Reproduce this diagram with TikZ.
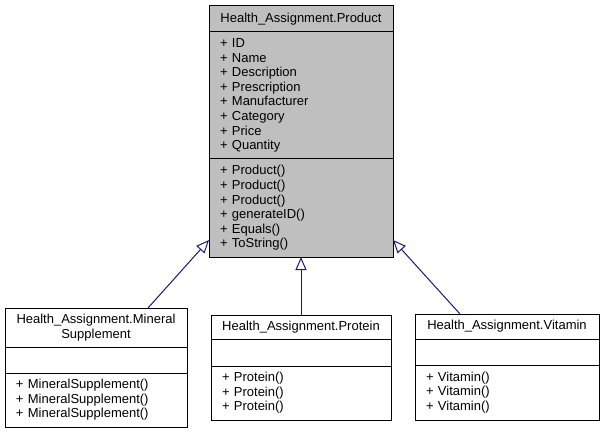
\documentclass[tikz,border=0pt]{standalone}
\usepackage{fontspec}
\setmainfont{Liberation Sans}
\usetikzlibrary{arrows.meta, positioning}
\definecolor{edgeblue}{HTML}{191970}
\definecolor{classgray}{HTML}{BFBFBF}

\begin{document}
\begin{tikzpicture}
[x=1pt, y=-1pt,
   font=\fontsize{13}{14.6}\selectfont,
   part/.style={shape=rectangle, draw, line width=1pt, outer sep=0pt, inner xsep=11pt, inner ysep=0pt, align=left},
   head/.style={part, align=center},
   inherit/.style={draw=edgeblue, line width=1pt, arrows={-Triangle[open, length=13pt, width=11pt]}}]
\useasboundingbox (0,0) rectangle (603,433);
% base class
\node[head, fill=classgray, text width=162pt, minimum height=26pt, anchor=north west] (prodT) at (209,6) {Health\_Assignment.Product};
\node[part, fill=classgray, text width=162pt, minimum height=127pt] (prodA) [below=0 of prodT] {+ ID\\+ Name\\+ Description\\+ Prescription\\+ Manufacturer\\+ Category\\+ Price\\+ Quantity};
\node[part, fill=classgray, text width=162pt, minimum height=98pt] (prodM) [below=0 of prodA] {+ Product()\\+ Product()\\+ Product()\\+ generateID()\\+ Equals()\\+ ToString()};
% derived classes
\node[head, text width=160pt, minimum height=39pt, anchor=north west] (minT) at (5,308) {Health\_Assignment.Mineral\\Supplement};
\node[part, text width=160pt, minimum height=26pt] (minA) [below=0 of minT] {};
\node[part, text width=160pt, minimum height=54pt] (minM) [below=0 of minA] {+ MineralSupplement()\\+ MineralSupplement()\\+ MineralSupplement()};
\node[head, text width=158pt, minimum height=24pt, anchor=north west] (protT) at (211,315) {Health\_Assignment.Protein};
\node[part, text width=158pt, minimum height=27pt] (protA) [below=0 of protT] {};
\node[part, text width=158pt, minimum height=54pt] (protM) [below=0 of protA] {+ Protein()\\+ Protein()\\+ Protein()};
\node[head, text width=162pt, minimum height=25pt, anchor=north west] (vitT) at (415,314) {Health\_Assignment.Vitamin};
\node[part, text width=162pt, minimum height=26pt] (vitA) [below=0 of vitT] {};
\node[part, text width=162pt, minimum height=55pt] (vitM) [below=0 of vitA] {+ Vitamin()\\+ Vitamin()\\+ Vitamin()};
% generalization
\coordinate (prodL) at ([yshift=17pt]prodM.south west);
\coordinate (prodR) at ([yshift=17pt]prodM.south east);
\coordinate (minUp) at ([xshift=-39pt]minT.north east);
\coordinate (vitUp) at ([xshift=45pt]vitT.north west);
\draw[inherit] (minUp) -- (prodL);
\draw[inherit] (protT) -- (prodM);
\draw[inherit] (vitUp) -- (prodR);
\end{tikzpicture}
\end{document}
